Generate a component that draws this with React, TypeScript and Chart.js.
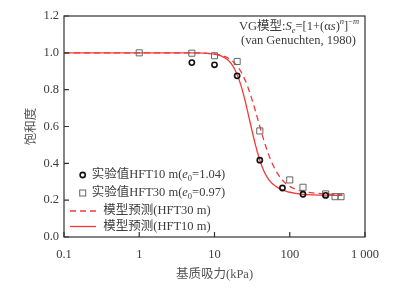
import React, { useEffect, useRef } from 'react';
import { Chart, registerables } from 'chart.js';

Chart.register(...registerables);

// ---- data ----
const curveSuction = [0.1, 1, 5, 10, 12, 15, 17.5, 20, 22.5, 25, 27.5, 30, 32.5, 35, 37.5, 40, 45, 50, 55, 60, 70, 80, 90, 100, 120, 150, 200, 300, 500];
const modelHFT10 = [1.0, 1.0, 1.0, 0.993, 0.985, 0.962, 0.929, 0.881, 0.822, 0.754, 0.683, 0.615, 0.554, 0.5, 0.455, 0.417, 0.361, 0.325, 0.302, 0.286, 0.267, 0.256, 0.248, 0.243, 0.237, 0.232, 0.229, 0.227, 0.226];
const modelHFT30 = [1.0, 1.0, 1.0, 0.994, 0.988, 0.973, 0.954, 0.929, 0.898, 0.86, 0.819, 0.774, 0.729, 0.684, 0.641, 0.6, 0.529, 0.471, 0.425, 0.39, 0.34, 0.308, 0.288, 0.275, 0.259, 0.248, 0.24, 0.234, 0.229];

const suctionHFT10 = [5, 10, 20, 40, 80, 150, 300];
const satHFT10 = [0.947, 0.935, 0.875, 0.417, 0.266, 0.232, 0.226];

const suctionHFT30 = [1, 5, 10, 20, 40, 100, 150, 300, 400, 480];
const satHFT30 = [1.0, 0.998, 0.984, 0.953, 0.576, 0.31, 0.27, 0.234, 0.219, 0.219];

const xTickValues = [0.1, 1, 10, 100, 1000];
const xTickLabels = ['0.1', '1', '10', '100', '1 000'];
const yTickValues = [0, 0.2, 0.4, 0.6, 0.8, 1.0, 1.2];
const yTickLabels = ['0.0', '0.2', '0.4', '0.6', '0.8', '1.0', '1.2'];

const xTitle = '基质吸力(kPa)';
const yTitle = '饱和度';

const RED = '#f23a3a';
const TEXT = '#3c3c3c';
const FAMILY = '"Liberation Serif", "Noto Sans CJK SC"';

type Seg = { t: string; it?: boolean; sub?: boolean; sup?: boolean };

function drawRich(ctx: CanvasRenderingContext2D, x: number, y: number, segs: Seg[], size: number) {
  let cx = x;
  ctx.textBaseline = 'middle';
  ctx.textAlign = 'left';
  for (const s of segs) {
    const sz = s.sub || s.sup ? size * 0.68 : size;
    ctx.font = `${s.it ? 'italic ' : ''}${sz}px ${FAMILY}`;
    const dy = s.sub ? size * 0.28 : s.sup ? -size * 0.38 : 0;
    ctx.fillText(s.t, cx, y + dy);
    cx += ctx.measureText(s.t).width;
  }
}

const decorPlugin = {
  id: 'decor',
  afterDraw(chart: any) {
    const { ctx, chartArea: a, scales } = chart;
    ctx.save();
    // frame
    ctx.strokeStyle = '#333';
    ctx.lineWidth = 1.2;
    ctx.strokeRect(a.left, a.top, a.right - a.left, a.bottom - a.top);
    // inward ticks
    ctx.beginPath();
    for (const v of xTickValues) {
      const px = scales.x.getPixelForValue(v);
      ctx.moveTo(px, a.bottom);
      ctx.lineTo(px, a.bottom - 5);
    }
    for (const v of yTickValues) {
      const py = scales.y.getPixelForValue(v);
      ctx.moveTo(a.left, py);
      ctx.lineTo(a.left + 5, py);
    }
    ctx.stroke();

    // annotation
    ctx.fillStyle = TEXT;
    const fs = 12.5;
    drawRich(ctx, 239, 27, [
      { t: 'VG模型:' },
      { t: 'S', it: true },
      { t: 'e', it: true, sub: true },
      { t: '=[1+(α' },
      { t: 's', it: true },
      { t: ')' },
      { t: 'n', it: true, sup: true },
      { t: ']' },
      { t: '−', sup: true },
      { t: 'm', it: true, sup: true },
    ], fs);
    drawRich(ctx, 241, 41, [{ t: '(van Genuchten, 1980)' }], fs);

    // legend
    const lx = 70, lx2 = 96;
    // circle
    ctx.strokeStyle = '#111';
    ctx.lineWidth = 1.6;
    ctx.beginPath();
    ctx.arc(82.7, 175, 2.6, 0, Math.PI * 2);
    ctx.stroke();
    drawRich(ctx, 91.7, 175, [
      { t: '实验值HFT10 m(' },
      { t: 'e', it: true },
      { t: '0', sub: true },
      { t: '=1.04)' },
    ], fs);
    // square
    ctx.strokeStyle = '#666';
    ctx.lineWidth = 1;
    ctx.strokeRect(79.7, 190, 6, 6);
    drawRich(ctx, 91.7, 193, [
      { t: '实验值HFT30 m(' },
      { t: 'e', it: true },
      { t: '0', sub: true },
      { t: '=0.97)' },
    ], fs);
    // dashed
    ctx.strokeStyle = RED;
    ctx.lineWidth = 1.3;
    ctx.setLineDash([6, 4]);
    ctx.beginPath();
    ctx.moveTo(lx, 211);
    ctx.lineTo(lx2, 211);
    ctx.stroke();
    ctx.setLineDash([]);
    drawRich(ctx, 103.3, 211, [{ t: '模型预测(HFT30 m)' }], fs);
    ctx.beginPath();
    ctx.moveTo(lx, 226.5);
    ctx.lineTo(lx2, 226.5);
    ctx.stroke();
    drawRich(ctx, 103.3, 227, [{ t: '模型预测(HFT10 m)' }], fs);
    ctx.restore();
  },
};

export default function App() {
  const ref = useRef<HTMLCanvasElement>(null);
  useEffect(() => {
    document.body.style.margin = '0';
    const canvas = ref.current!;
    const pts = (xs: number[], ys: number[]) => xs.map((x, i) => ({ x, y: ys[i] }));
    const chart = new Chart(canvas, {
      type: 'scatter',
      data: {
        datasets: [
          {
            label: '实验值HFT10 m',
            data: pts(suctionHFT10, satHFT10),
            pointStyle: 'circle',
            pointRadius: 2.6,
            borderColor: '#111',
            borderWidth: 1.6,
            backgroundColor: 'rgba(0,0,0,0)',
            order: 0,
          },
          {
            label: '实验值HFT30 m',
            data: pts(suctionHFT30, satHFT30),
            pointStyle: 'rect',
            pointRadius: 4.3,
            borderColor: '#666',
            borderWidth: 1,
            backgroundColor: 'rgba(0,0,0,0)',
            order: 0,
          },
          {
            label: '模型预测(HFT30 m)',
            data: pts(curveSuction, modelHFT30),
            showLine: true,
            pointRadius: 0,
            borderColor: RED,
            borderWidth: 1.3,
            borderDash: [6, 4],
            cubicInterpolationMode: 'monotone',
            order: 1,
          } as any,
          {
            label: '模型预测(HFT10 m)',
            data: pts(curveSuction, modelHFT10),
            showLine: true,
            pointRadius: 0,
            borderColor: RED,
            borderWidth: 1.3,
            cubicInterpolationMode: 'monotone',
            order: 1,
          } as any,
        ],
      },
      options: {
        animation: false,
        responsive: false,
        layout: { padding: { left: 0, right: 30, top: 16, bottom: 0 } },
        plugins: { legend: { display: false }, tooltip: { enabled: false } },
        scales: {
          x: {
            type: 'logarithmic',
            min: 0.1,
            max: 1000,
            afterBuildTicks: (scale: any) => {
              scale.ticks = xTickValues.map((v) => ({ value: v }));
            },
            afterFit: (scale: any) => {
              scale.height = 51;
            },
            grid: { display: false, drawTicks: false },
            border: { display: false },
            ticks: {
              autoSkip: false,
              maxRotation: 0,
              padding: 10,
              color: TEXT,
              font: { family: FAMILY, size: 12.5 },
              callback: (_v: any, i: number) => xTickLabels[i],
            },
            title: {
              display: true,
              text: xTitle,
              color: '#555',
              font: { family: FAMILY, size: 12.5 },
              padding: { top: 0, bottom: 5.5 },
            },
          },
          y: {
            min: 0,
            max: 1.2,
            afterBuildTicks: (scale: any) => {
              scale.ticks = yTickValues.map((v) => ({ value: v }));
            },
            afterFit: (scale: any) => {
              scale.width = 64;
            },
            grid: { display: false, drawTicks: false },
            border: { display: false },
            ticks: {
              autoSkip: false,
              padding: 5,
              color: TEXT,
              font: { family: FAMILY, size: 12.5 },
              callback: (_v: any, i: number) => yTickLabels[i],
            },
            title: {
              display: true,
              text: yTitle,
              color: '#555',
              font: { family: FAMILY, size: 12.5 },
              padding: { top: 24.5, bottom: 0 },
            },
          },
        },
      } as any,
      plugins: [decorPlugin],
    });
    return () => chart.destroy();
  }, []);
  return (
    <div style={{ position: 'absolute', left: 0, top: 0, width: 395, height: 288 }}>
      <canvas ref={ref} width={395} height={288} style={{ display: 'block' }} />
    </div>
  );
}
